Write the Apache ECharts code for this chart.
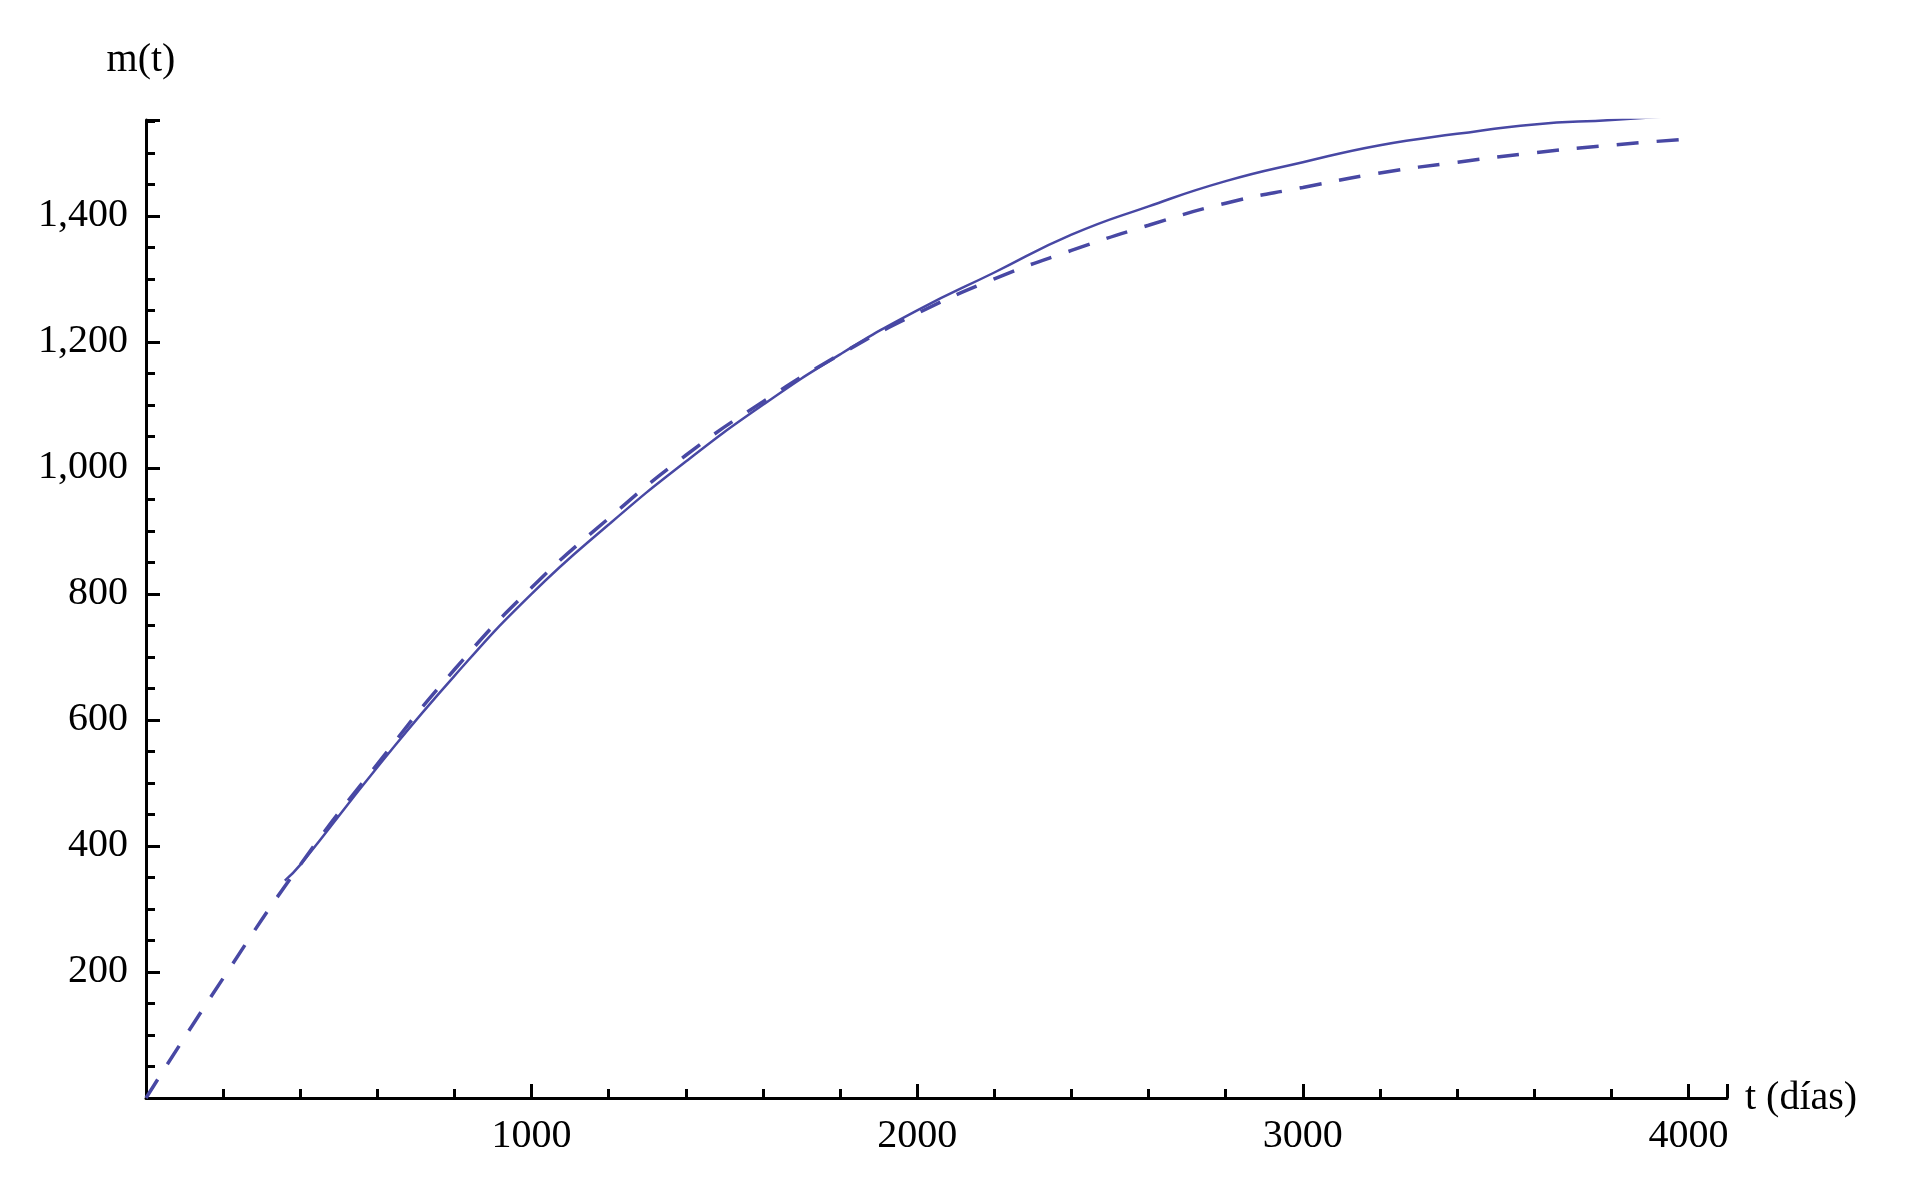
<!DOCTYPE html>
<html>
<head>
<meta charset="utf-8">
<script src="https://cdn.jsdelivr.net/npm/echarts@6/dist/echarts.min.js"></script>
<style>html,body{margin:0;background:#fff}#chart{width:1929px;height:1187px}</style>
</head>
<body>
<div id="chart"></div>
<script>
var dashedT = [0, 200, 400, 600, 800, 1000, 1200, 1400, 1600, 1800, 2000, 2200, 2400, 2600, 2800, 3000, 3200, 3400, 3600, 3800, 4000];
var dashedM = [0, 190, 370, 530, 680, 810, 920, 1020, 1105, 1180, 1245, 1300, 1345, 1385, 1420, 1445, 1468, 1485, 1500, 1512, 1522];
var solidT = [360, 400, 600, 800, 1000, 1200, 1400, 1600, 1800, 2000, 2200, 2400, 2600, 2800, 3000, 3200, 3400, 3600, 3800, 4000];
var solidM = [345, 370, 525, 670, 800, 910, 1010, 1100, 1180, 1250, 1310, 1370, 1415, 1455, 1485, 1512, 1530, 1545, 1552, 1560];

var pairs = function (xs, ys) {
    return xs.map(function (x, i) { return [x, ys[i]]; });
};
var font = 'Liberation Serif';
var lineColor = '#4848a4';

var chart = echarts.init(document.getElementById('chart'));
var option = {
    animation: false,
    grid: {left: 146, top: 120, width: 1581, height: 978},
    xAxis: {
        type: 'value', min: 0, max: 4100, interval: 1000,
        name: 't (días)', nameLocation: 'end', nameGap: 18,
        nameTextStyle: {fontFamily: font, fontSize: 40, color: '#000'},
        axisLine: {lineStyle: {color: '#000', width: 3}},
        axisTick: {inside: true, length: 14, lineStyle: {color: '#000', width: 3}},
        minorTick: {show: true, splitNumber: 5, length: 9, lineStyle: {color: '#000', width: 3}},
        axisLabel: {fontFamily: font, fontSize: 40, color: '#000', margin: 18, showMinLabel: false, showMaxLabel: false,
            formatter: function (v) { return v % 1000 === 0 && v > 0 ? String(v) : ''; }},
        splitLine: {show: false}
    },
    yAxis: {
        type: 'value', min: 0, max: 1552, interval: 200,
        name: 'm(t)', nameLocation: 'end', nameGap: 40,
        nameTextStyle: {fontFamily: font, fontSize: 40, color: '#000', align: 'center', padding: [0, 0, 0, -10]},
        axisLine: {lineStyle: {color: '#000', width: 3}},
        axisTick: {inside: true, length: 14, lineStyle: {color: '#000', width: 3}},
        minorTick: {show: true, splitNumber: 4, length: 9, lineStyle: {color: '#000', width: 3}},
        axisLabel: {fontFamily: font, fontSize: 40, color: '#000', margin: 18, showMinLabel: false, showMaxLabel: false},
        splitLine: {show: false}
    },
    series: [
        {
            type: 'line', data: pairs(solidT, solidM), smooth: true, symbol: 'none',
            lineStyle: {color: lineColor, width: 2.5}
        },
        {
            type: 'line', data: pairs(dashedT, dashedM), smooth: true, symbol: 'none',
            lineStyle: {color: lineColor, width: 3.5, type: [22, 18]}
        }
    ]
};
chart.setOption(option);
</script>
</body>
</html>
